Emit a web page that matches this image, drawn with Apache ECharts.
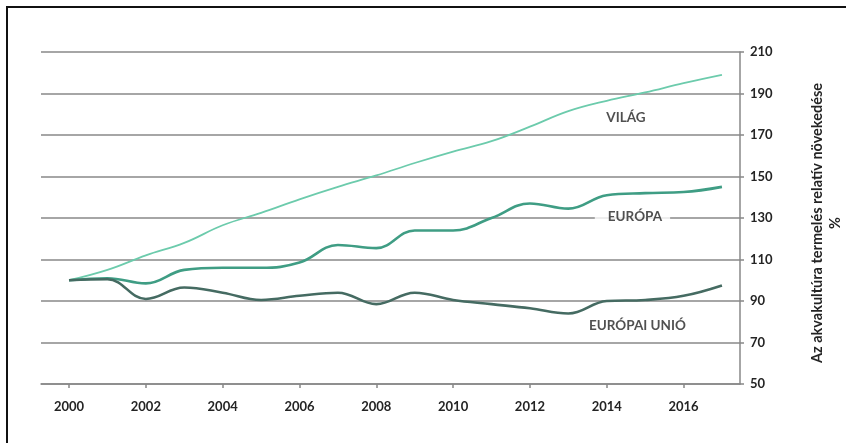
<!DOCTYPE html>
<html>
<head>
<meta charset="utf-8">
<script src="https://cdn.jsdelivr.net/npm/echarts@6/dist/echarts.min.js"></script>
<style>
  html, body { margin: 0; padding: 0; background: #fff; }
  #wrap { position: relative; width: 846px; height: 443px; overflow: hidden; }
  #chart { position: absolute; left: 0; top: 0; width: 846px; height: 443px; }
  #frame { position: absolute; left: 6px; top: 6px; width: 850px; height: 450px;
           border-left: 2px solid #111; border-top: 2px solid #111; pointer-events: none; }
</style>
</head>
<body>
<div id="wrap">
  <div id="chart"></div>
  <div id="frame"></div>
</div>
<script>
// Years on the horizontal axis
const years = [2000, 2001, 2002, 2003, 2004, 2005, 2006, 2007, 2008, 2009,
               2010, 2011, 2012, 2013, 2014, 2015, 2016, 2017];
const yearTicks = [2000, 2002, 2004, 2006, 2008, 2010, 2012, 2014, 2016];

// Relative growth of aquaculture production, 2000 = 100 %
const vilag = [100, 105, 112, 118, 126.5, 132.5, 139, 145, 150.5, 156.5,
               162, 167, 174, 181.5, 186.5, 190.5, 195, 199];
const europa = [100, 101, 98.5, 105, 106, 106, 108.5, 117, 115.5, 124,
                124, 130, 137, 134.5, 141, 142, 142.5, 145];
const eu = [100, 100.5, 91, 96.5, 94, 90.5, 92.5, 94, 88.5, 94,
            90.5, 88.5, 86.5, 84, 90, 90.5, 92.5, 97.5];

// In-plot series names and where they sit (year, value)
const labelNames = ['VILÁG', 'EURÓPA', 'EURÓPAI UNIÓ'];
const labelYears = [2014.5, 2014.67, 2014.8];
const labelValues = [178.2, 130.5, 78];

const yTitle = 'Az akvakultúra termelés relatív növekedése';
const yUnit = '%';

const FONT = 'Lato, "Open Sans", sans-serif';
const GRID = '#888888';
const TEXT = '#242424';

const pairs = arr => years.map((y, i) => [y, arr[i]]);

const chart = echarts.init(document.getElementById('chart'), null, { renderer: 'canvas' });
chart.setOption({
  animation: false,
  grid: { left: 41, right: 106, top: 52, bottom: 59, containLabel: false, outerBoundsMode: 'none' },
  xAxis: {
    type: 'value',
    min: 1999.27,
    max: 2017.47,
    axisLine: { show: true, lineStyle: { color: GRID, width: 1.5 } },
    axisTick: { show: true, customValues: yearTicks, length: 4, lineStyle: { color: GRID, width: 1.5 } },
    axisLabel: {
      customValues: yearTicks,
      margin: 16,
      color: TEXT,
      fontFamily: FONT,
      fontWeight: 'bold',
      fontSize: 13,
      formatter: v => String(Math.round(v))
    },
    splitLine: { show: false }
  },
  yAxis: {
    type: 'value',
    position: 'right',
    min: 50,
    max: 210,
    interval: 20,
    axisLine: { show: true, lineStyle: { color: GRID, width: 1.5 } },
    axisTick: { show: true, length: 4, lineStyle: { color: GRID, width: 1.5 } },
    axisLabel: {
      margin: 10,
      color: TEXT,
      fontFamily: FONT,
      fontWeight: 'bold',
      fontSize: 13
    },
    splitLine: { show: true, lineStyle: { color: GRID, width: 1.5 } },
    name: yTitle + '\n' + yUnit,
    nameLocation: 'middle',
    nameRotate: 90,
    nameGap: 68,
    nameTextStyle: {
      color: TEXT,
      fontFamily: FONT,
      fontWeight: 'bold',
      fontSize: 14.5,
      lineHeight: 18,
      padding: [0, 10, 0, 0]
    }
  },
  series: [
    {
      name: 'VILÁG',
      type: 'line',
      data: pairs(vilag),
      smooth: 0.4,
      showSymbol: false,
      lineStyle: { color: '#6ccbac', width: 1.8 },
      z: 3
    },
    {
      name: 'EURÓPA',
      type: 'line',
      data: pairs(europa),
      smooth: 0.4,
      showSymbol: false,
      lineStyle: { color: '#3f9d84', width: 2.6 },
      z: 4
    },
    {
      name: 'EURÓPAI UNIÓ',
      type: 'line',
      data: pairs(eu),
      smooth: 0.4,
      showSymbol: false,
      lineStyle: { color: '#456b62', width: 2.6 },
      z: 5
    },
    {
      name: 'labels',
      type: 'scatter',
      symbolSize: 0,
      silent: true,
      z: 6,
      data: labelNames.map((n, i) => ({
        value: [labelYears[i], labelValues[i]],
        name: n,
        label: n === 'EURÓPA'
          ? { backgroundColor: '#fff', padding: [2, 8, 2, 13] }
          : {}
      })),
      label: {
        show: true,
        position: 'inside',
        formatter: p => p.name,
        color: TEXT,
        fontFamily: FONT,
        fontWeight: 'bold',
        fontSize: 13.5
      }
    }
  ]
});
</script>
</body>
</html>
